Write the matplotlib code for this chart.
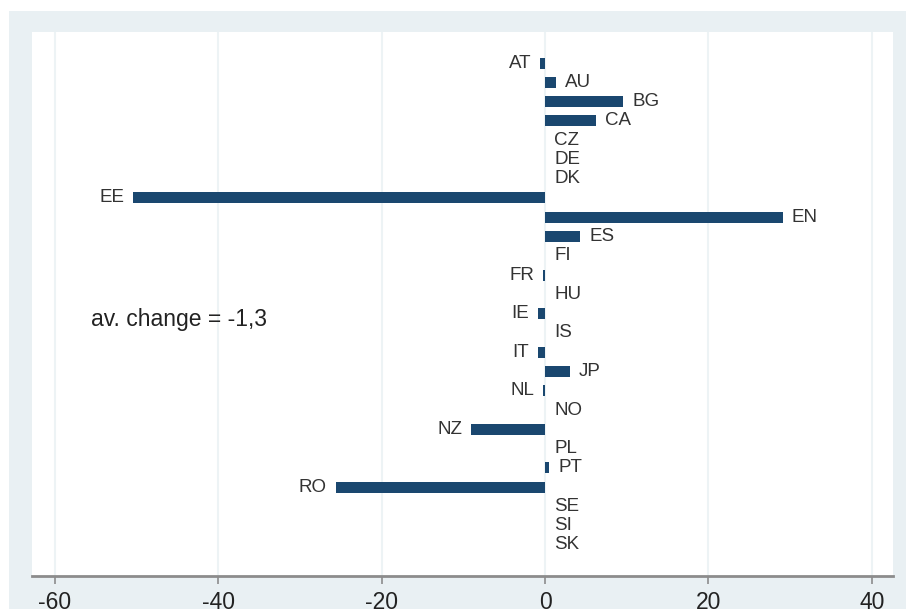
import matplotlib
matplotlib.use("Agg")
import matplotlib.pyplot as plt
from matplotlib.patches import Rectangle

plt.rcParams['font.family'] = ['Liberation Sans', 'DejaVu Sans']

countries = ["AT", "AU", "BG", "CA", "CZ", "DE", "DK", "EE", "EN", "ES", "FI", "FR", "HU",
             "IE", "IS", "IT", "JP", "NL", "NO", "NZ", "PL", "PT", "RO", "SE", "SI", "SK"]
changes = [-0.6, 1.3, 9.6, 6.3, 0.0, 0.0, 0.0, -50.4, 29.1, 4.3, 0.0, -0.2, 0.0,
           -0.8, 0.0, -0.9, 3.0, -0.2, 0.0, -9.0, 0.0, 0.5, -25.6, 0.0, 0.0, 0.0]
x_ticks = [-60, -40, -20, 0, 20, 40]
tick_labels = ["-60", "-40", "-20", "0", "20", "40"]
note = "av. change = -1,3"

W, H = 906, 609
fig = plt.figure(figsize=(W / 100, H / 100), dpi=100)
fig.patch.set_facecolor("white")
fig.patches.append(Rectangle((9 / W, 0), 1 - 9 / W, 1 - 11 / H, transform=fig.transFigure,
                             facecolor="#e9f0f3", edgecolor="none", zorder=-10))

left, right, top, bottom = 32, 893, 32, 576
ax = fig.add_axes([left / W, 1 - bottom / H, (right - left) / W, (bottom - top) / H])
ax.set_zorder(5)
ax.set_facecolor("white")

ypos = list(range(len(countries)))
ax.barh(ypos, changes, height=0.57, color="#1a476f", zorder=3)

for y, v, c in zip(ypos, changes, countries):
    if v < 0:
        ax.annotate(c, xy=(v, y), xytext=(-6.5, 0), textcoords="offset points",
                    ha="right", va="center", fontsize=13.5, color="#333333")
    else:
        ax.annotate(c, xy=(v, y), xytext=(6.5, 0), textcoords="offset points",
                    ha="left", va="center", fontsize=13.5, color="#333333")

ax.text(-55.6, 13.3, note, ha="left", va="center", fontsize=16.5, color="#222222")

ax.set_xlim(-62.8, 42.6)
pad = 1.61
ax.set_ylim(len(countries) - 1 + pad, -pad)
ax.set_xticks(x_ticks)
ax.set_xticklabels(tick_labels)
ax.set_yticks([])
ax.grid(axis="x", color="#edf3f5", linewidth=1.5, zorder=0)
ax.set_axisbelow(True)
for s in ["top", "left", "right"]:
    ax.spines[s].set_visible(False)
ax.spines["bottom"].set_color("#8c8c8c")
ax.spines["bottom"].set_linewidth(2)
ax.tick_params(axis="x", length=6, width=1.2, color="#8c8c8c", labelsize=16.5,
               labelcolor="#222222", pad=5)

fig.savefig("out.png", dpi=100)
